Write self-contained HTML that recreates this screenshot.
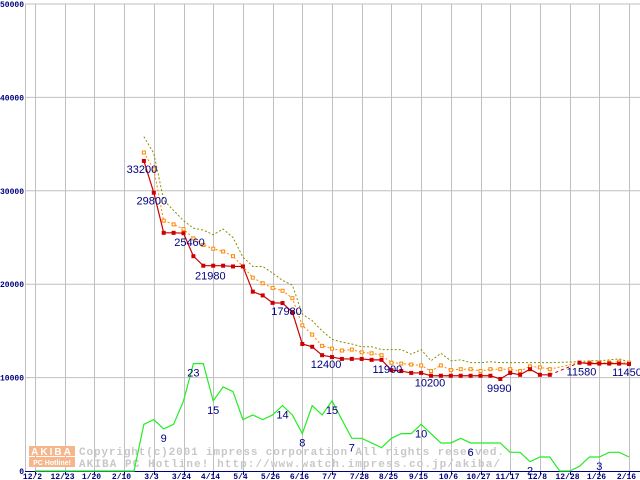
<!DOCTYPE html>
<html><head><meta charset="utf-8"><style>
html,body{margin:0;padding:0;background:#fff;}
svg{display:block;font-family:"Liberation Sans",sans-serif;}
.ax{font-size:8px;font-weight:bold;fill:#000080;font-family:"Liberation Mono",monospace;}
.lbl{font-size:11px;fill:#000080;}
</style></head><body>
<svg id="chart" width="640" height="480" xmlns="http://www.w3.org/2000/svg">
<g id="grid"></g>
<g id="wm">
 <rect x="29" y="446" width="46" height="10" fill="#f6b58a"/>
 <text x="52" y="455" text-anchor="middle" font-size="10" font-weight="bold" fill="#fff" letter-spacing="2">AKIBA</text>
 <rect x="29" y="457" width="46" height="10" fill="#f6b58a"/>
 <text x="52" y="465" text-anchor="middle" font-size="7" font-weight="bold" fill="#fff">PC Hotline!</text>
 <text x="79" y="455" font-size="11" font-weight="bold" fill="#c8c8c8" font-family="Liberation Mono,monospace" textLength="425">Copyright(c)2001 impress corporation All rights reserved.</text>
 <text x="79" y="467" font-size="11" font-weight="bold" fill="#c8c8c8" font-family="Liberation Mono,monospace" textLength="421">AKIBA PC Hotline!  http://www.watch.impress.co.jp/akiba/</text>
</g>
<g id="series"></g>
<g id="labels"></g>
</svg>
<script>
const xLabels=["12/2","12/23","1/20","2/10","3/3","3/24","4/14","5/4","5/26","6/16","7/7","7/28","8/25","9/15","10/6","10/27","11/17","12/8","12/28","1/26","2/16"];
const yTicks=[0,10000,20000,30000,40000,50000];
const minPrice=[null,null,null,null,null,null,null,null,null,null,null,33200,29800,25500,25500,25460,23000,21980,21980,21980,21900,21900,19200,18800,18000,17980,17000,13600,13300,12400,12200,12000,12000,12000,11900,11900,10800,10700,10500,10500,10200,10200,10200,10200,10200,10200,10200,9850,10500,10300,10900,10300,10300,null,null,11600,11500,11500,11500,11500,11450];
const avgPrice=[null,null,null,null,null,null,null,null,null,null,null,34100,32300,26800,26400,25900,24900,24200,23800,23500,23000,21900,20700,20100,19600,19300,18500,15600,14600,13400,13100,12900,13000,12700,12600,12400,11600,11500,11400,11300,10700,11300,10800,10900,10900,10700,10900,10900,10900,10700,11200,11100,10900,null,null,11600,11600,11600,11600,11700,11600];
const maxPrice=[null,null,null,null,null,null,null,null,null,null,null,35800,34000,29000,27900,26800,26000,25800,25300,25900,25000,22900,21900,21900,21200,20400,19900,16800,16100,15000,14100,13800,13600,13300,13300,13000,13000,13000,12500,13000,11800,12600,11800,11900,11600,11600,11700,11600,11600,11600,11600,11600,11600,null,null,11700,11800,11800,11900,12000,11700];
const shopCount=[0,0,0,0,0,0,0,0,0,0,0,10,11,9,10,15,23,23,15,18,17,11,12,11,12,14,12,8,14,12,15,11,7,7,6,5,7,8,8,10,8,6,6,7,6,6,6,6,4,4,2,3,3,0,0,1,3,3,4,4,3];
const priceNotes=[[11,"33200",-2,12],[12,"29800",-2,12],[15,"25460",6,13],[17,"21980",7,14],[25,"17980",4,12],[29,"12400",4,13],[36,"11900",-4,3],[40,"10200",-1,11],[47,"9990",-1,13],[55,"11580",2,13],[60,"11450",-2,12]];
const countNotes=[[13,"9"],[18,"15"],[16,"23"],[25,"14"],[27,"8"],[30,"15"],[32,"7"],[39,"10"],[44,"6"],[50,"2"],[57,"3"]];

const NS="http://www.w3.org/2000/svg";
const X0=35,WK=9.9,Y0=471,PX=467/50000;
const xs=w=>X0+w*WK, yp=v=>Y0-v*PX, yc=c=>Y0-c*4.67;
function mk(tag,attrs,parent){const e=document.createElementNS(NS,tag);for(const k in attrs)e.setAttribute(k,attrs[k]);parent.appendChild(e);return e;}
const grid=document.getElementById('grid'),ser=document.getElementById('series'),lab=document.getElementById('labels');
mk('line',{x1:25,y1:4,x2:640,y2:4,stroke:'#c0c0c0','stroke-width':1},grid);
yTicks.forEach(v=>{if(v>0&&v<50000){const l=mk('line',{x1:25,y1:yp(v),x2:640,y2:yp(v),stroke:'#c0c0c0'},grid);

}
const t=mk('text',{x:24,y:yp(v)+3,'text-anchor':'end',class:'ax'},grid);t.textContent=String(v);

});
mk('line',{x1:25.5,y1:4,x2:25.5,y2:471,stroke:'#c0c0c0'},grid);
xLabels.forEach((s,i)=>{const x=Math.round(xs(i*3))+0.5;
const l=mk('line',{x1:x,y1:4,x2:x,y2:471,stroke:'#c0c0c0'},grid);


mk('line',{x1:x,y1:471,x2:x,y2:475,stroke:'#000080'},grid);
const t=mk('text',{x:x-3,y:479,'text-anchor':'middle',class:'ax'},grid);t.textContent=s;

});
mk('line',{x1:25,y1:471.5,x2:640,y2:471.5,stroke:'#000080'},grid);

function path(arr,yf){let d='',pen=false;arr.forEach((v,i)=>{if(v==null){pen=false;return;}d+=(pen?'L':'M')+xs(i)+' '+yf(v)+' ';pen=true;});return d;}
function gapPath(arr,yf){let d='';for(let i=1;i<arr.length;i++){if(arr[i]==null&&arr[i-1]!=null){let j=i;while(j<arr.length&&arr[j]==null)j++;if(j<arr.length)d+='M'+xs(i-1)+' '+yf(arr[i-1])+'L'+xs(j)+' '+yf(arr[j])+' ';}}return d;}
const g=mk('path',{d:path(shopCount,yc),fill:'none',stroke:'#22ee22','stroke-width':1.2},ser);


const mx=mk('path',{d:path(maxPrice,yp)+gapPath(maxPrice,yp),fill:'none',stroke:'#8c8c00','stroke-dasharray':'2 2'},ser);


const av=mk('path',{d:path(avgPrice,yp)+gapPath(avgPrice,yp),fill:'none',stroke:'#ff8800','stroke-dasharray':'2 2'},ser);


avgPrice.forEach((v,i)=>{if(v==null)return;const r=mk('rect',{x:xs(i)-1.5,y:yp(v)-1.5,width:3,height:3,fill:'#fff',stroke:'#ff8800','stroke-width':1},ser);

});
const mn=mk('path',{d:path(minPrice,yp),fill:'none',stroke:'#cc0000','stroke-width':1.2},ser);


mk('path',{d:gapPath(minPrice,yp),fill:'none',stroke:'#cc0000','stroke-dasharray':'3 3'},ser);
minPrice.forEach((v,i)=>{if(v==null)return;const r=mk('rect',{x:xs(i)-2,y:yp(v)-2,width:4,height:4,fill:'#cc0000'},ser);

});
priceNotes.forEach(([w,s,dx,dy])=>{const v=minPrice[w];const t=mk('text',{x:xs(w)+dx,y:yp(v)+dy,'text-anchor':'middle',class:'lbl'},lab);t.textContent=s;

});
countNotes.forEach(([w,s])=>{const t=mk('text',{x:xs(w),y:Math.min(yc(shopCount[w])+13,475),'text-anchor':'middle',class:'lbl'},lab);t.textContent=s;

});
</script>
</body></html>
